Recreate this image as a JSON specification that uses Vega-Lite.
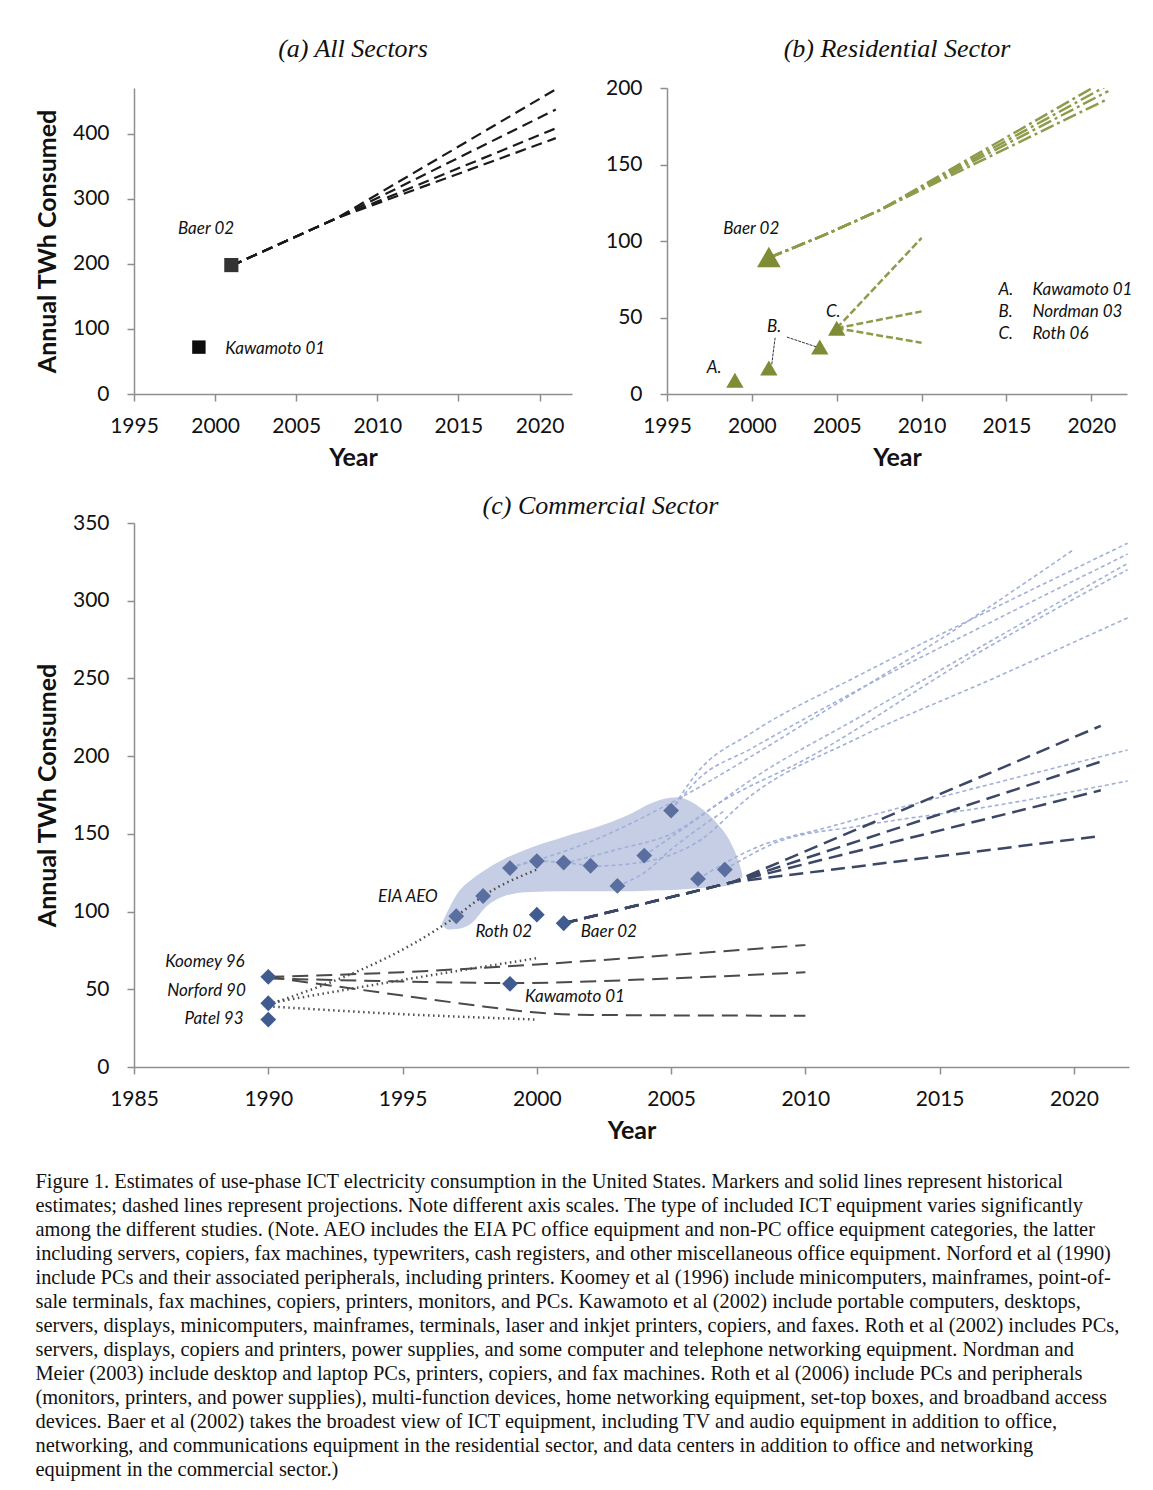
{
  "$schema": "https://vega.github.io/schema/vega-lite/v6.json",
  "background": "white",
  "padding": {"left": 35, "top": 35, "right": 5, "bottom": 5},
  "spacing": 22,
  "resolve": {"scale": {"color": "independent", "size": "independent"}},
  "config": {
    "font": "Lato",
    "view": {"stroke": null},
    "axis": {"domainColor": "#8e8e8e", "domainWidth": 1.5, "tickColor": "#8e8e8e", "tickWidth": 1.5, "tickSize": 7, "grid": false, "labelFlush": false, "labelOverlap": false, "labelFont": "Lato", "labelFontSize": 21, "labelColor": "#111", "titleFont": "Lato", "titleFontSize": 25, "titleFontWeight": "bold", "titleColor": "#111"},
    "axisX": {"labelPadding": 14, "titlePadding": 9},
    "axisY": {"labelPadding": 18, "titlePadding": 12},
    "title": {"font": "Liberation Serif", "fontStyle": "italic", "fontWeight": "normal", "fontSize": 26, "color": "#111", "baseline": "middle"}
  },
  "title": {
    "text": [
      "Figure 1. Estimates of use-phase ICT electricity consumption in the United States. Markers and solid lines represent historical",
      "estimates; dashed lines represent projections. Note different axis scales. The type of included ICT equipment varies significantly",
      "among the different studies. (Note.   AEO includes the EIA PC office equipment and non-PC office equipment categories, the latter",
      "including servers, copiers, fax machines, typewriters, cash registers, and other miscellaneous office equipment. Norford et al (1990)",
      "include PCs and their associated peripherals, including printers. Koomey et al (1996) include minicomputers, mainframes, point-of-",
      "sale terminals, fax machines, copiers, printers, monitors, and PCs. Kawamoto et al (2002) include portable computers, desktops,",
      "servers, displays, minicomputers, mainframes, terminals, laser and inkjet printers, copiers, and faxes. Roth et al (2002) includes PCs,",
      "servers, displays, copiers and printers, power supplies, and some computer and telephone networking equipment. Nordman and",
      "Meier (2003) include desktop and laptop PCs, printers, copiers, and fax machines. Roth et al (2006) include PCs and peripherals",
      "(monitors, printers, and power supplies), multi-function devices, home networking equipment, set-top boxes, and broadband access",
      "devices. Baer et al (2002) takes the broadest view of ICT equipment, including TV and audio equipment in addition to office,",
      "networking, and communications equipment in the residential sector, and data centers in addition to office and networking",
      "equipment in the commercial sector.)"
    ],
    "orient": "bottom", "anchor": "start", "frame": "bounds", "offset": 29, "dx": 0,
    "font": "Liberation Serif", "fontStyle": "normal", "fontSize": 20.4, "lineHeight": 24, "baseline": "top", "color": "#111"
  },
  "datasets": {
    "a_lines": [
      {"s": "a1", "year": 2001, "value": 197}, {"s": "a1", "year": 2007.5, "value": 270}, {"s": "a1", "year": 2021, "value": 468},
      {"s": "a2", "year": 2001, "value": 197}, {"s": "a2", "year": 2007.5, "value": 270}, {"s": "a2", "year": 2021, "value": 437},
      {"s": "a3", "year": 2001, "value": 197}, {"s": "a3", "year": 2007.5, "value": 270}, {"s": "a3", "year": 2021, "value": 408},
      {"s": "a4", "year": 2001, "value": 197}, {"s": "a4", "year": 2007.5, "value": 270}, {"s": "a4", "year": 2021, "value": 393}
    ],
    "a_points": [
      {"study": "Kawamoto 01", "year": 1999, "value": 72},
      {"study": "Baer 02", "year": 2001, "value": 198}
    ],
    "a_labels": [
      {"label": "Baer 02", "year": 1999.44, "value": 253},
      {"label": "Kawamoto 01", "year": 2003.7, "value": 69}
    ],
    "b_dashdot": [
      {"s": "b1", "year": 2001, "value": 89}, {"s": "b1", "year": 2004.5, "value": 105}, {"s": "b1", "year": 2007.5, "value": 120}, {"s": "b1", "year": 2021, "value": 206},
      {"s": "b2", "year": 2001, "value": 89}, {"s": "b2", "year": 2004.5, "value": 105}, {"s": "b2", "year": 2007.5, "value": 120}, {"s": "b2", "year": 2021, "value": 202},
      {"s": "b3", "year": 2001, "value": 89}, {"s": "b3", "year": 2004.5, "value": 105}, {"s": "b3", "year": 2007.5, "value": 120}, {"s": "b3", "year": 2021, "value": 198},
      {"s": "b4", "year": 2001, "value": 89}, {"s": "b4", "year": 2004.5, "value": 105}, {"s": "b4", "year": 2007.5, "value": 120}, {"s": "b4", "year": 2021, "value": 193}
    ],
    "b_dashed": [
      {"s": "r1", "year": 2005, "value": 43}, {"s": "r1", "year": 2010, "value": 102},
      {"s": "r2", "year": 2005, "value": 43}, {"s": "r2", "year": 2010, "value": 54},
      {"s": "r3", "year": 2005, "value": 43}, {"s": "r3", "year": 2010, "value": 33.5}
    ],
    "b_leader": [
      {"s": "l1", "year": 2001.37, "value": 36.8}, {"s": "l1", "year": 2001.17, "value": 19.4},
      {"s": "l2", "year": 2002.06, "value": 37.2}, {"s": "l2", "year": 2003.83, "value": 30.7}
    ],
    "b_points": [
      {"kind": "study", "year": 1999, "value": 9},
      {"kind": "study", "year": 2001, "value": 17},
      {"kind": "study", "year": 2004, "value": 30.7},
      {"kind": "study", "year": 2005, "value": 43},
      {"kind": "baer", "year": 2001, "value": 89.5}
    ],
    "b_labels": [
      {"label": "Baer 02", "year": 1999.96, "value": 107.8},
      {"label": "A.", "year": 1997.77, "value": 17},
      {"label": "B.", "year": 2001.31, "value": 43.8},
      {"label": "C.", "year": 2004.79, "value": 53.6}
    ],
    "b_legend": [
      {"letter": "A.", "name": "Kawamoto 01", "year": 2014.53, "year2": 2016.53, "value": 68},
      {"letter": "B.", "name": "Nordman 03", "year": 2014.53, "year2": 2016.53, "value": 53.6},
      {"letter": "C.", "name": "Roth 06", "year": 2014.53, "year2": 2016.53, "value": 39.2}
    ],
    "c_blob": [
      {"year": 1996.45, "value": 92, "value2": 92},
      {"year": 1996.7, "value": 101, "value2": 88.5},
      {"year": 1997.1, "value": 113, "value2": 89},
      {"year": 1997.6, "value": 121, "value2": 93},
      {"year": 1998.1, "value": 127, "value2": 103},
      {"year": 1998.8, "value": 134, "value2": 110},
      {"year": 1999.6, "value": 140, "value2": 112.5},
      {"year": 2001, "value": 148, "value2": 113},
      {"year": 2002.5, "value": 156, "value2": 113},
      {"year": 2003.5, "value": 163, "value2": 113},
      {"year": 2004.3, "value": 170, "value2": 113.5},
      {"year": 2005.2, "value": 173.5, "value2": 114},
      {"year": 2006.0, "value": 168, "value2": 115},
      {"year": 2006.7, "value": 157, "value2": 116},
      {"year": 2007.2, "value": 145, "value2": 117},
      {"year": 2007.5, "value": 133, "value2": 119},
      {"year": 2007.65, "value": 124, "value2": 122}
    ],
    "c_light": [
      {"s": "LA", "year": 1999, "value": 128}, {"s": "LA", "year": 2002, "value": 145}, {"s": "LA", "year": 2005, "value": 170}, {"s": "LA", "year": 2008, "value": 200}, {"s": "LA", "year": 2011, "value": 232}, {"s": "LA", "year": 2015, "value": 275}, {"s": "LA", "year": 2020, "value": 333},
      {"s": "LB", "year": 2005, "value": 165}, {"s": "LB", "year": 2006, "value": 190}, {"s": "LB", "year": 2008, "value": 215}, {"s": "LB", "year": 2012, "value": 252}, {"s": "LB", "year": 2017, "value": 295}, {"s": "LB", "year": 2022, "value": 337},
      {"s": "LC", "year": 2005, "value": 165}, {"s": "LC", "year": 2006, "value": 185}, {"s": "LC", "year": 2008, "value": 205}, {"s": "LC", "year": 2012, "value": 243}, {"s": "LC", "year": 2017, "value": 287}, {"s": "LC", "year": 2022, "value": 330},
      {"s": "LD", "year": 2004, "value": 136}, {"s": "LD", "year": 2006, "value": 160}, {"s": "LD", "year": 2008, "value": 185}, {"s": "LD", "year": 2012, "value": 225}, {"s": "LD", "year": 2017, "value": 275}, {"s": "LD", "year": 2022, "value": 324},
      {"s": "LE", "year": 2001, "value": 131}, {"s": "LE", "year": 2003, "value": 140}, {"s": "LE", "year": 2005, "value": 150}, {"s": "LE", "year": 2007, "value": 172}, {"s": "LE", "year": 2010, "value": 198}, {"s": "LE", "year": 2016, "value": 262}, {"s": "LE", "year": 2022, "value": 320},
      {"s": "LF", "year": 2002, "value": 129}, {"s": "LF", "year": 2004, "value": 132}, {"s": "LF", "year": 2006, "value": 145}, {"s": "LF", "year": 2008, "value": 175}, {"s": "LF", "year": 2012, "value": 212}, {"s": "LF", "year": 2017, "value": 250}, {"s": "LF", "year": 2022, "value": 289},
      {"s": "LG", "year": 2006, "value": 121}, {"s": "LG", "year": 2008, "value": 140}, {"s": "LG", "year": 2011, "value": 155}, {"s": "LG", "year": 2016, "value": 178}, {"s": "LG", "year": 2022, "value": 204},
      {"s": "LH", "year": 2007, "value": 127}, {"s": "LH", "year": 2009, "value": 145}, {"s": "LH", "year": 2012, "value": 155}, {"s": "LH", "year": 2017, "value": 168}, {"s": "LH", "year": 2022, "value": 184},
      {"s": "LI", "year": 1999, "value": 128}, {"s": "LI", "year": 2000, "value": 132.5}, {"s": "LI", "year": 2001, "value": 131.5}, {"s": "LI", "year": 2002, "value": 129.5},
      {"s": "LJ", "year": 2003, "value": 116.5}, {"s": "LJ", "year": 2004, "value": 125}, {"s": "LJ", "year": 2005, "value": 140}, {"s": "LJ", "year": 2007, "value": 165}
    ],
    "c_koomey": [
      {"s": "K1", "year": 1990, "value": 58}, {"s": "K1", "year": 1995, "value": 61}, {"s": "K1", "year": 2000, "value": 66}, {"s": "K1", "year": 2005, "value": 72}, {"s": "K1", "year": 2010, "value": 78.5},
      {"s": "K2", "year": 1990, "value": 57}, {"s": "K2", "year": 1995, "value": 55}, {"s": "K2", "year": 1999, "value": 54}, {"s": "K2", "year": 2005, "value": 57}, {"s": "K2", "year": 2010, "value": 61},
      {"s": "K3", "year": 1990, "value": 58}, {"s": "K3", "year": 1995, "value": 46}, {"s": "K3", "year": 1998, "value": 39}, {"s": "K3", "year": 2000, "value": 35}, {"s": "K3", "year": 2002, "value": 33.5}, {"s": "K3", "year": 2010, "value": 33}
    ],
    "c_dotted": [
      {"s": "T1", "year": 1990, "value": 40}, {"s": "T1", "year": 1997, "value": 97}, {"s": "T1", "year": 1998, "value": 110}, {"s": "T1", "year": 2000, "value": 127},
      {"s": "T2", "year": 1990, "value": 41}, {"s": "T2", "year": 1995, "value": 56}, {"s": "T2", "year": 2000, "value": 70},
      {"s": "T3", "year": 1990, "value": 39}, {"s": "T3", "year": 1995, "value": 34}, {"s": "T3", "year": 2000, "value": 30.5}
    ],
    "c_dark": [
      {"s": "D1", "year": 2001, "value": 92.5}, {"s": "D1", "year": 2007.3, "value": 119}, {"s": "D1", "year": 2021, "value": 219.5},
      {"s": "D2", "year": 2001, "value": 92.5}, {"s": "D2", "year": 2007.3, "value": 119}, {"s": "D2", "year": 2021, "value": 196.5},
      {"s": "D3", "year": 2001, "value": 92.5}, {"s": "D3", "year": 2007.3, "value": 119}, {"s": "D3", "year": 2021, "value": 178},
      {"s": "D4", "year": 2001, "value": 92.5}, {"s": "D4", "year": 2007.3, "value": 119}, {"s": "D4", "year": 2021, "value": 148.6}
    ],
    "c_points": [
      {"source": "historical", "year": 1990, "value": 58},
      {"source": "historical", "year": 1990, "value": 41},
      {"source": "historical", "year": 1990, "value": 30.5},
      {"source": "historical", "year": 1999, "value": 53.5},
      {"source": "historical", "year": 2000, "value": 98},
      {"source": "historical", "year": 2001, "value": 92.5},
      {"source": "EIA AEO", "year": 1997, "value": 97},
      {"source": "EIA AEO", "year": 1998, "value": 110},
      {"source": "EIA AEO", "year": 1999, "value": 128},
      {"source": "EIA AEO", "year": 2000, "value": 132.5},
      {"source": "EIA AEO", "year": 2001, "value": 131.5},
      {"source": "EIA AEO", "year": 2002, "value": 129.5},
      {"source": "EIA AEO", "year": 2003, "value": 116.5},
      {"source": "EIA AEO", "year": 2004, "value": 136},
      {"source": "EIA AEO", "year": 2005, "value": 165},
      {"source": "EIA AEO", "year": 2006, "value": 121},
      {"source": "EIA AEO", "year": 2007, "value": 127}
    ],
    "c_labels": [
      {"label": "Koomey 96", "year": 1987.64, "value": 67.6},
      {"label": "Norford 90", "year": 1987.7, "value": 49},
      {"label": "Patel 93", "year": 1987.98, "value": 31},
      {"label": "EIA AEO", "year": 1995.2, "value": 109.4},
      {"label": "Roth 02", "year": 1998.77, "value": 86.9},
      {"label": "Baer 02", "year": 2002.68, "value": 86.9},
      {"label": "Kawamoto 01", "year": 2001.42, "value": 45}
    ]
  },
  "vconcat": [
    {
      "hconcat": [
        {
          "width": 438, "height": 306,
          "title": {"text": "(a) All Sectors", "offset": 23},
          "encoding": {
            "x": {"field": "year", "type": "quantitative", "scale": {"domain": [1995, 2022], "nice": false, "zero": false}, "axis": {"values": [1995, 2000, 2005, 2010, 2015, 2020], "format": "d", "title": "Year"}},
            "y": {"field": "value", "type": "quantitative", "scale": {"domain": [0, 470], "nice": false}, "axis": {"values": [0, 100, 200, 300, 400], "title": "Annual TWh Consumed"}}
          },
          "layer": [
            {"data": {"name": "a_lines"}, "mark": {"type": "line", "color": "#1a1a1a", "strokeWidth": 2.2, "strokeDash": [11, 6]}, "encoding": {"detail": {"field": "s"}}},
            {"data": {"name": "a_points"}, "mark": {"type": "point", "shape": "square", "filled": true, "opacity": 1},
             "encoding": {"color": {"field": "study", "type": "nominal", "scale": {"domain": ["Kawamoto 01", "Baer 02"], "range": ["#0d0d0d", "#333333"]}, "legend": null},
                          "size": {"field": "study", "type": "nominal", "scale": {"domain": ["Kawamoto 01", "Baer 02"], "range": [180, 200]}, "legend": null}}},
            {"data": {"name": "a_labels"}, "mark": {"type": "text", "font": "Lato", "fontStyle": "italic", "fontSize": 17, "color": "#111"}, "encoding": {"text": {"field": "label"}}}
          ]
        },
        {
          "width": 460, "height": 306,
          "title": {"text": "(b) Residential Sector", "offset": 15.5},
          "encoding": {
            "x": {"field": "year", "type": "quantitative", "scale": {"domain": [1995, 2022.1], "nice": false, "zero": false}, "axis": {"values": [1995, 2000, 2005, 2010, 2015, 2020], "format": "d", "title": "Year"}},
            "y": {"field": "value", "type": "quantitative", "scale": {"domain": [0, 200], "nice": false}, "axis": {"values": [0, 50, 100, 150, 200], "title": null}}
          },
          "layer": [
            {"data": {"name": "b_dashdot"}, "mark": {"type": "line", "color": "#8d9b4b", "strokeWidth": 2.5, "strokeDash": [14, 4, 3, 4], "clip": true}, "encoding": {"detail": {"field": "s"}}},
            {"data": {"name": "b_dashed"}, "mark": {"type": "line", "color": "#8d9b4b", "strokeWidth": 2.5, "strokeDash": [7, 3]}, "encoding": {"detail": {"field": "s"}}},
            {"data": {"name": "b_leader"}, "mark": {"type": "line", "color": "#333333", "strokeWidth": 1, "strokeDash": [3, 1]}, "encoding": {"detail": {"field": "s"}}},
            {"data": {"name": "b_points"}, "mark": {"type": "point", "shape": "triangle-up", "filled": true, "opacity": 1, "color": "#7f8b35"},
             "encoding": {"size": {"field": "kind", "type": "nominal", "scale": {"domain": ["study", "baer"], "range": [300, 560]}, "legend": null}}},
            {"data": {"name": "b_labels"}, "mark": {"type": "text", "font": "Lato", "fontStyle": "italic", "fontSize": 17, "color": "#111"}, "encoding": {"text": {"field": "label"}}},
            {"data": {"name": "b_legend"}, "mark": {"type": "text", "font": "Lato", "fontStyle": "italic", "fontSize": 17, "color": "#111", "align": "left"}, "encoding": {"text": {"field": "letter"}}},
            {"data": {"name": "b_legend"}, "mark": {"type": "text", "font": "Lato", "fontStyle": "italic", "fontSize": 17, "color": "#111", "align": "left"}, "encoding": {"x": {"field": "year2", "type": "quantitative"}, "text": {"field": "name"}}}
          ]
        }
      ],
      "spacing": 95,
      "bounds": "flush",
      "resolve": {"scale": {"color": "independent", "size": "independent"}}
    },
    {
      "width": 995, "height": 544,
      "title": {"text": "(c) Commercial Sector", "offset": -6.5, "dx": -31},
      "encoding": {
        "x": {"field": "year", "type": "quantitative", "scale": {"domain": [1985, 2022.05], "nice": false, "zero": false}, "axis": {"values": [1985, 1990, 1995, 2000, 2005, 2010, 2015, 2020], "format": "d", "title": "Year"}},
        "y": {"field": "value", "type": "quantitative", "scale": {"domain": [0, 350], "nice": false}, "axis": {"values": [0, 50, 100, 150, 200, 250, 300, 350], "title": "Annual TWh Consumed"}}
      },
      "layer": [
        {"data": {"name": "c_blob"}, "mark": {"type": "area", "color": "#c5cee4", "opacity": 1, "interpolate": "monotone"}, "encoding": {"y2": {"field": "value2"}}},
        {"data": {"name": "c_light"}, "mark": {"type": "line", "color": "#a0b0d8", "strokeWidth": 1.6, "strokeDash": [4, 3], "interpolate": "monotone"}, "encoding": {"detail": {"field": "s"}}},
        {"data": {"name": "c_koomey"}, "mark": {"type": "line", "color": "#4a4a4a", "strokeWidth": 2, "strokeDash": [16, 8], "interpolate": "monotone"}, "encoding": {"detail": {"field": "s"}}},
        {"data": {"name": "c_dotted"}, "mark": {"type": "line", "color": "#4d4d4d", "strokeWidth": 2.5, "strokeDash": [1.5, 3.5], "interpolate": "monotone"}, "encoding": {"detail": {"field": "s"}}},
        {"data": {"name": "c_dark"}, "mark": {"type": "line", "color": "#3c4766", "strokeWidth": 2.5, "strokeDash": [14, 7]}, "encoding": {"detail": {"field": "s"}}},
        {"data": {"name": "c_points"}, "mark": {"type": "point", "shape": "diamond", "filled": true, "opacity": 1, "size": 250},
         "encoding": {"color": {"field": "source", "type": "nominal", "scale": {"domain": ["historical", "EIA AEO"], "range": ["#3f5b90", "#5a6fa0"]}, "legend": null}}},
        {"data": {"name": "c_labels"}, "mark": {"type": "text", "font": "Lato", "fontStyle": "italic", "fontSize": 17, "color": "#111"}, "encoding": {"text": {"field": "label"}}}
      ]
    }
  ]
}
